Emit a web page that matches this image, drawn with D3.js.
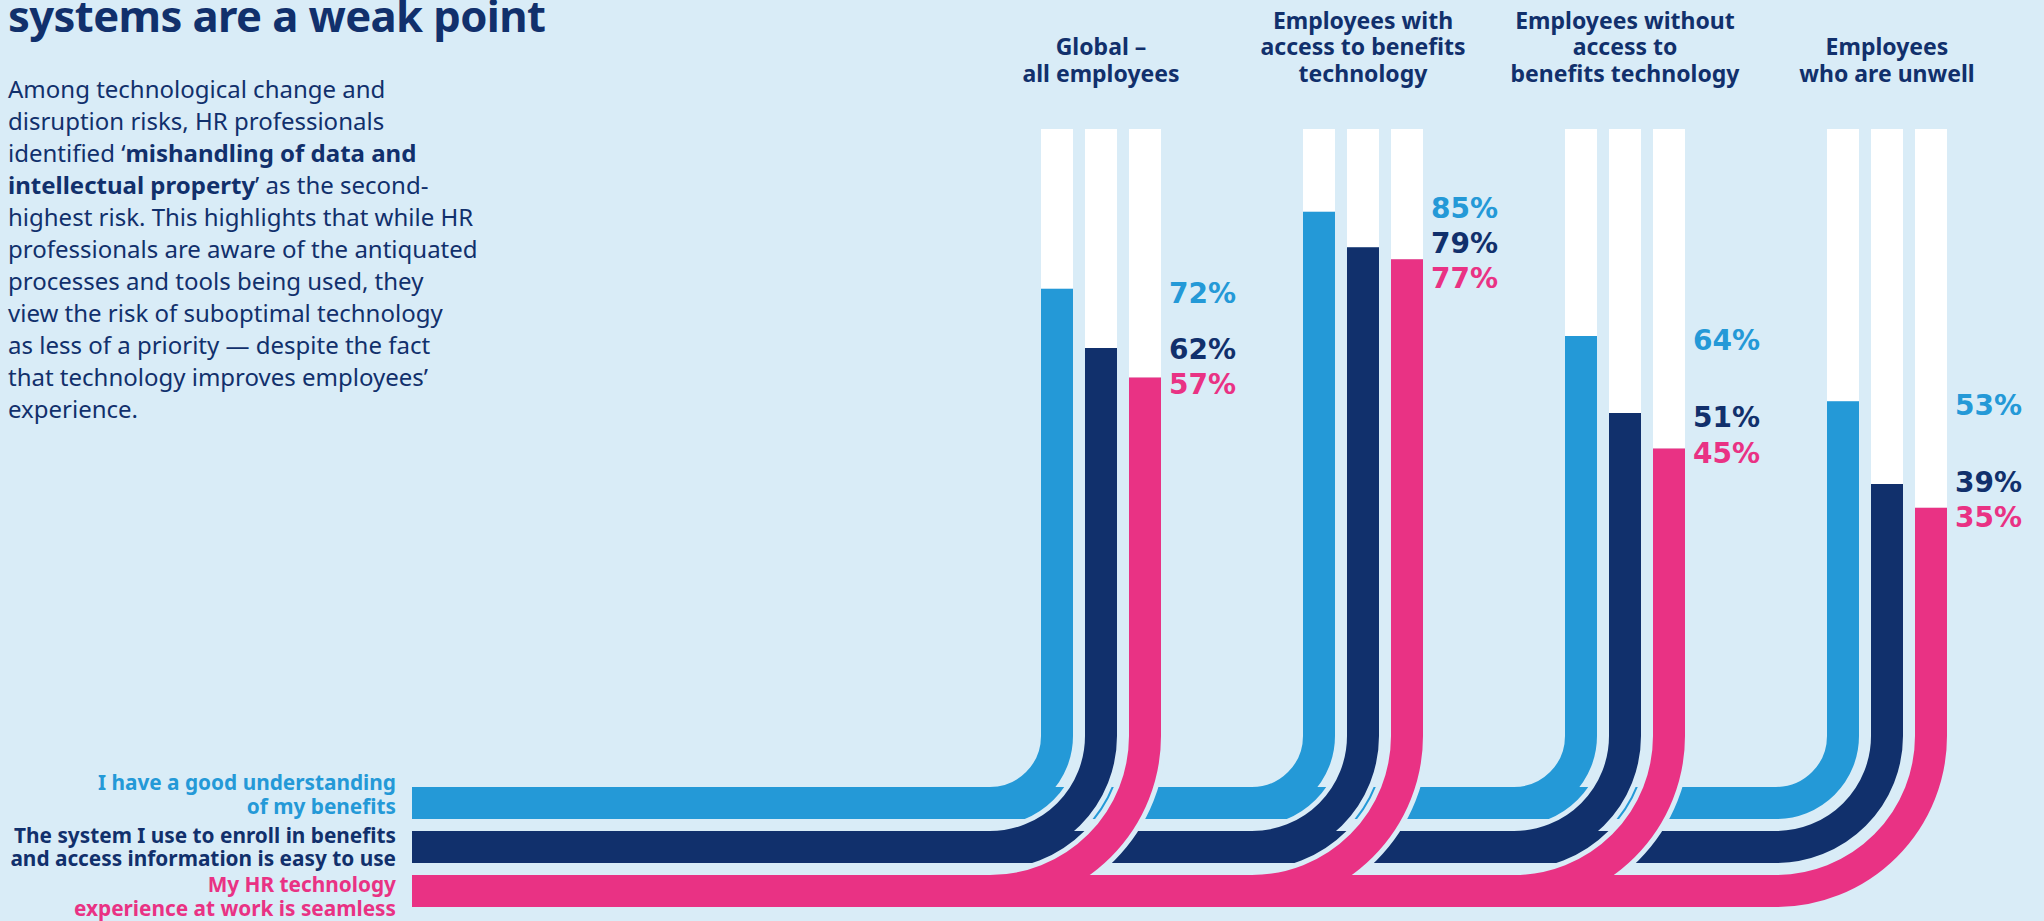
<!DOCTYPE html>
<html>
<head>
<meta charset="utf-8">
<script src="https://cdn.jsdelivr.net/npm/d3@7"></script>
<style>
  html, body { margin: 0; padding: 0; background: #d9ecf7; }
  svg { display: block; font-family: "Noto Sans", "Open Sans", sans-serif; }
</style>
</head>
<body>
<script>
// ---- data ---------------------------------------------------------------
const groupKeys = ["global", "withAccess", "withoutAccess", "unwell"];
const groupHeaders = [
  ["Global –", "all employees"],
  ["Employees with", "access to benefits", "technology"],
  ["Employees without", "access to", "benefits technology"],
  ["Employees", "who are unwell"]
];
const seriesKeys = ["understanding", "easyToUse", "seamless"];
const seriesLabels = [
  ["I have a good understanding", "of my benefits"],
  ["The system I use to enroll in benefits", "and access information is easy to use"],
  ["My HR technology", "experience at work is seamless"]
];
const seriesColors = ["#2499d7", "#11306c", "#e93284"];
const understandingValues = [72, 85, 64, 53];
const easyToUseValues = [62, 79, 51, 39];
const seamlessValues = [57, 77, 45, 35];
const seriesValues = [understandingValues, easyToUseValues, seamlessValues];

const titleText = "systems are a weak point";
const introLines = [
  [{t: "Among technological change and"}],
  [{t: "disruption risks, HR professionals"}],
  [{t: "identified ‘"}, {t: "mishandling of data and", b: true}],
  [{t: "intellectual property", b: true}, {t: "’ as the second-"}],
  [{t: "highest risk. This highlights that while HR"}],
  [{t: "professionals are aware of the antiquated"}],
  [{t: "processes and tools being used, they"}],
  [{t: "view the risk of suboptimal technology"}],
  [{t: "as less of a priority — despite the fact"}],
  [{t: "that technology improves employees’"}],
  [{t: "experience."}]
];

// ---- layout -------------------------------------------------------------
const W = 2044, H = 921;
const bg = "#d9ecf7";
const navy = "#11306c";
const trackTop = 129;       // top of the white 100% tracks
const bendY = 736;          // where the bars start to curve
const innerRadius = 51;     // radius of the innermost curve edge
const bandLeft = 412;       // left end of the horizontal ribbons
const casing = 5;           // background gap drawn around each ribbon

const svg = d3.select("body").append("svg")
  .attr("width", W).attr("height", H);

svg.append("rect").attr("width", W).attr("height", H).attr("fill", bg);

const x = d3.scaleBand().domain(groupKeys).range([1041, 1947])
  .paddingInner(0.542).paddingOuter(0);
const xs = d3.scaleBand().domain(seriesKeys).range([0, x.bandwidth()])
  .paddingInner(0.2727);
const y = d3.scaleLinear().domain([0, 100]).range([715, 123]);
const bw = xs.bandwidth();

// ---- title and intro text ----------------------------------------------
svg.append("text")
  .attr("x", 8).attr("y", 32)
  .attr("fill", navy)
  .attr("font-size", 43.6).attr("font-weight", 700)
  .attr("letter-spacing", -0.6)
  .text(titleText);

const intro = svg.append("text")
  .attr("fill", navy).attr("font-size", 24);
introLines.forEach((runs, i) => {
  runs.forEach((r, j) => {
    const ts = intro.append("tspan").text(r.t)
      .attr("font-weight", r.b ? 700 : 400);
    if (j === 0) ts.attr("x", 8).attr("y", 97.5 + i * 32);
  });
});

// ---- column headers -----------------------------------------------------
groupKeys.forEach((g, gi) => {
  const lines = groupHeaders[gi];
  const cx = x(g) + x.bandwidth() / 2;
  const t = svg.append("text")
    .attr("text-anchor", "middle")
    .attr("fill", navy).attr("font-size", 23).attr("font-weight", 700);
  lines.forEach((ln, li) => {
    t.append("tspan").attr("x", cx)
      .attr("y", 82 - (lines.length - 1 - li) * 26.7)
      .text(ln);
  });
});

// ---- white tracks ---------------------------------------------------------
groupKeys.forEach(g => {
  svg.append("g").selectAll("rect").data(seriesKeys).join("rect")
    .attr("x", s => x(g) + xs(s))
    .attr("y", trackTop)
    .attr("width", bw)
    .attr("height", y(0) - trackTop)
    .attr("fill", "#ffffff");
});

// ---- ribbons: bar fill, curve and horizontal run --------------------------
function ribbon(g, si) {
  const s = seriesKeys[si];
  const cx = x(g) + xs(s) + bw / 2;
  const r = xs(s) + bw / 2 + innerRadius;
  const p = d3.path();
  p.moveTo(cx, y(seriesValues[si][groupKeys.indexOf(g)]));
  p.lineTo(cx, bendY);
  p.arc(cx - r, bendY, r, 0, Math.PI / 2, false);
  p.lineTo(bandLeft, bendY + r);
  return p.toString();
}

seriesKeys.forEach((s, si) => {
  const layer = svg.append("g").attr("fill", "none");
  layer.selectAll("path.case").data(groupKeys).join("path")
    .attr("class", "case")
    .attr("d", g => ribbon(g, si))
    .attr("stroke", bg)
    .attr("stroke-width", bw + 2 * casing);
  layer.selectAll("path.fill").data(groupKeys).join("path")
    .attr("class", "fill")
    .attr("d", g => ribbon(g, si))
    .attr("stroke", seriesColors[si])
    .attr("stroke-width", bw);
});

// ---- value labels (nudged apart where they would collide) ---------------
const labelGap = 35, labelOffset = 14;
function spread(desired) {
  let clusters = desired.map((d, i) => ({ items: [i], pos: d }));
  let merged = true;
  while (merged) {
    merged = false;
    for (let k = 0; k < clusters.length - 1; k++) {
      const a = clusters[k], b = clusters[k + 1];
      const aEnd = a.pos + (a.items.length - 1) * labelGap;
      if (b.pos - aEnd < labelGap) {
        const items = a.items.concat(b.items);
        const mean = d3.mean(items, (it, n) => desired[it] - n * labelGap);
        clusters.splice(k, 2, { items, pos: mean });
        merged = true;
        break;
      }
    }
  }
  const out = [];
  clusters.forEach(c => c.items.forEach((it, n) => out[it] = c.pos + n * labelGap));
  return out;
}

groupKeys.forEach((g, gi) => {
  const desired = seriesKeys.map((s, si) => y(seriesValues[si][gi]) + labelOffset);
  const pos = spread(desired);
  svg.append("g").selectAll("text").data(seriesKeys).join("text")
    .attr("x", x(g) + x.bandwidth() + 8)
    .attr("y", (s, si) => pos[si])
    .attr("fill", (s, si) => seriesColors[si])
    .attr("font-family", "'DejaVu Sans', sans-serif")
    .attr("font-size", 28).attr("font-weight", 700)
    .text((s, si) => seriesValues[si][gi] + "%");
});

// ---- series labels at the left end of the ribbons ------------------------
const legendBaselines = [[790, 813.5], [843, 866], [892, 916]];
seriesKeys.forEach((s, si) => {
  const t = svg.append("text")
    .attr("text-anchor", "end")
    .attr("fill", seriesColors[si])
    .attr("font-size", 20.8).attr("font-weight", 700);
  seriesLabels[si].forEach((ln, li) => {
    t.append("tspan").attr("x", 396).attr("y", legendBaselines[si][li]).text(ln);
  });
});
</script>
</body>
</html>
